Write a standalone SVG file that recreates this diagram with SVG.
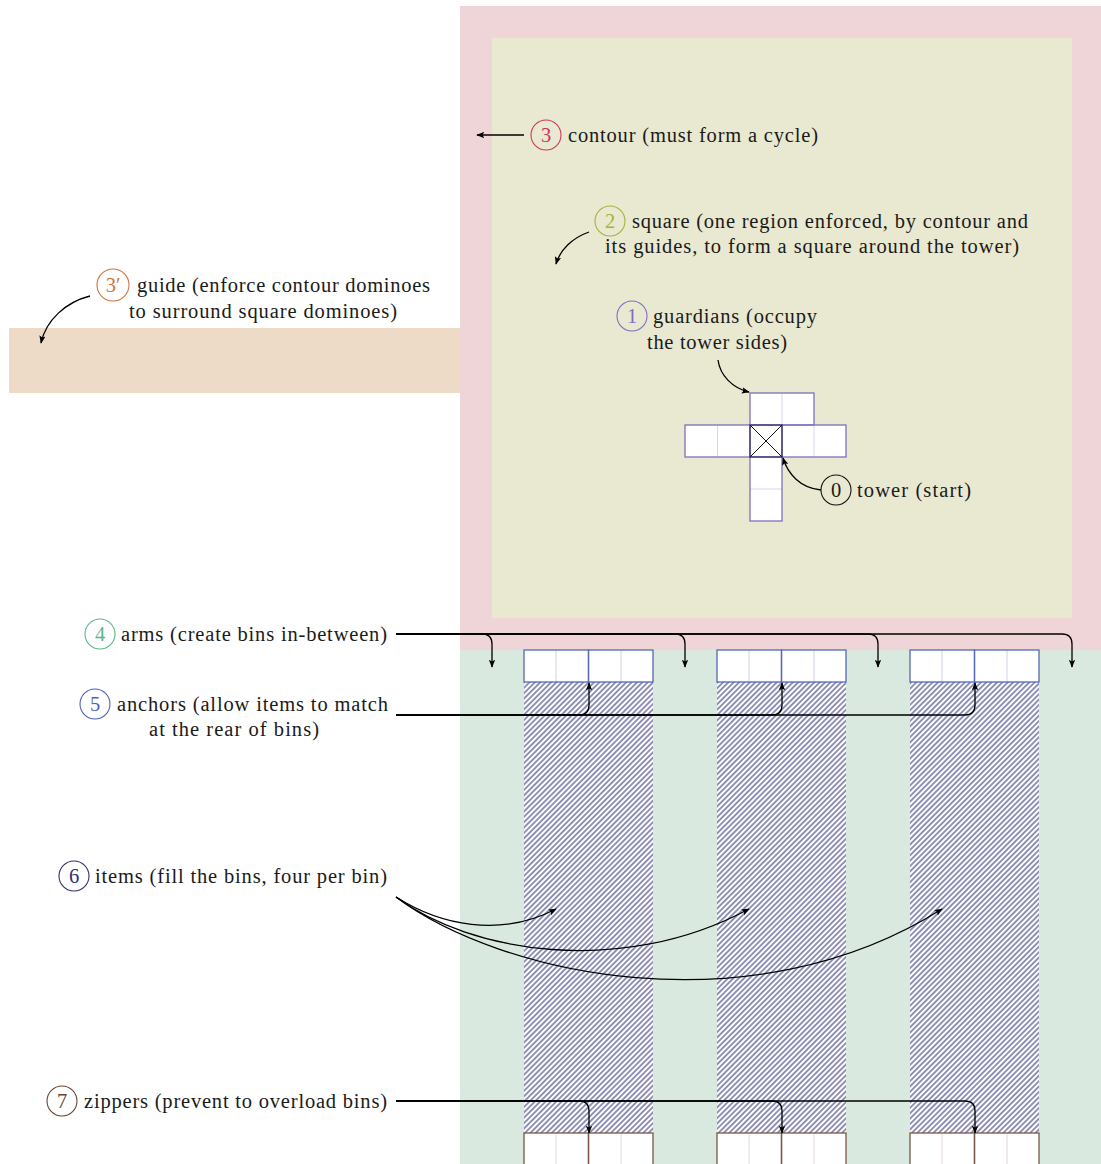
<svg xmlns="http://www.w3.org/2000/svg" width="1101" height="1164" viewBox="0 0 1101 1164">
<style>
text{font-family:"Liberation Serif","DejaVu Serif",serif;font-size:20.5px;fill:#1a1a1a}
.num{text-anchor:middle}
.c{fill:none;stroke-width:1.1}
.con{fill:none;stroke:#000;stroke-width:1.3}
.cell{fill:#fff}
.bin{fill:none;stroke:#5468b8;stroke-width:1.3}
.binl{stroke:#c9d1ef;stroke-width:1}
.zip{fill:none;stroke:#7a5646;stroke-width:1.3}
.zipl{stroke:#e3d8d0;stroke-width:1}
.cr{fill:none;stroke:#7d6fbf;stroke-width:1.3}
.crl{stroke:#d9d2f0;stroke-width:1}
</style>
<defs>
<marker id="ah" viewBox="0 0 10 8" refX="9" refY="4" markerWidth="8" markerHeight="6.4" markerUnits="userSpaceOnUse" orient="auto">
<path d="M0,0 L10,4 L0,8 L2,4 Z" fill="#000"/>
</marker>
<pattern id="hatch" patternUnits="userSpaceOnUse" width="3.8" height="10" patternTransform="rotate(45)">
<rect width="3.8" height="10" fill="#fff"/>
<line x1="1.9" y1="0" x2="1.9" y2="10" stroke="#3a3d7e" stroke-width="1.1"/>
</pattern>
</defs>

<g id="regions">
<rect x="460" y="6" width="641" height="644" fill="#f0d5d8"/>
<rect x="492" y="38" width="580" height="580" fill="#e9e8d1"/>
<rect x="9" y="328" width="451" height="65" fill="#eedbc7"/>
<rect x="460" y="650" width="641" height="514" fill="#dae9df"/>
</g>

<g id="bins">
<g id="bin1">
<rect x="524" y="682" width="129" height="451" fill="url(#hatch)"/>
<rect x="524" y="650" width="129" height="32" class="cell"/>
<line x1="556" y1="650" x2="556" y2="682" class="binl"/><line x1="621" y1="650" x2="621" y2="682" class="binl"/>
<rect x="524" y="650" width="64.5" height="32" class="bin"/><rect x="588.5" y="650" width="64.5" height="32" class="bin"/>
<rect x="524" y="1133" width="129" height="32" class="cell"/>
<line x1="556" y1="1133" x2="556" y2="1165" class="zipl"/><line x1="621" y1="1133" x2="621" y2="1165" class="zipl"/>
<rect x="524" y="1133" width="64.5" height="32" class="zip"/><rect x="588.5" y="1133" width="64.5" height="32" class="zip"/>
</g>
<g id="bin2">
<rect x="717" y="682" width="129" height="451" fill="url(#hatch)"/>
<rect x="717" y="650" width="129" height="32" class="cell"/>
<line x1="749" y1="650" x2="749" y2="682" class="binl"/><line x1="814" y1="650" x2="814" y2="682" class="binl"/>
<rect x="717" y="650" width="64.5" height="32" class="bin"/><rect x="781.5" y="650" width="64.5" height="32" class="bin"/>
<rect x="717" y="1133" width="129" height="32" class="cell"/>
<line x1="749" y1="1133" x2="749" y2="1165" class="zipl"/><line x1="814" y1="1133" x2="814" y2="1165" class="zipl"/>
<rect x="717" y="1133" width="64.5" height="32" class="zip"/><rect x="781.5" y="1133" width="64.5" height="32" class="zip"/>
</g>
<g id="bin3">
<rect x="910" y="682" width="129" height="451" fill="url(#hatch)"/>
<rect x="910" y="650" width="129" height="32" class="cell"/>
<line x1="942" y1="650" x2="942" y2="682" class="binl"/><line x1="1007" y1="650" x2="1007" y2="682" class="binl"/>
<rect x="910" y="650" width="64.5" height="32" class="bin"/><rect x="974.5" y="650" width="64.5" height="32" class="bin"/>
<rect x="910" y="1133" width="129" height="32" class="cell"/>
<line x1="942" y1="1133" x2="942" y2="1165" class="zipl"/><line x1="1007" y1="1133" x2="1007" y2="1165" class="zipl"/>
<rect x="910" y="1133" width="64.5" height="32" class="zip"/><rect x="974.5" y="1133" width="64.5" height="32" class="zip"/>
</g>
</g>

<g id="cross">
<rect x="750" y="393" width="64" height="32" class="cell"/>
<rect x="685" y="425" width="161" height="32" class="cell"/>
<rect x="750" y="457" width="32" height="64" class="cell"/>
<line x1="782" y1="393" x2="782" y2="425" class="crl"/>
<line x1="717.5" y1="425" x2="717.5" y2="457" class="crl"/>
<line x1="814" y1="425" x2="814" y2="457" class="crl"/>
<line x1="750" y1="489" x2="782" y2="489" class="crl"/>
<rect x="750" y="393" width="64" height="32" class="cr"/>
<rect x="685" y="425" width="65" height="32" class="cr"/>
<rect x="782" y="425" width="64" height="32" class="cr"/>
<rect x="750" y="457" width="32" height="64" class="cr"/>
<g id="tower">
<rect x="750" y="425" width="32" height="32" fill="none" stroke="#4a3f72" stroke-width="1.5"/>
<line x1="750" y1="425" x2="782" y2="457" stroke="#111" stroke-width="1"/>
<line x1="782" y1="425" x2="750" y2="457" stroke="#111" stroke-width="1"/>
</g>
</g>

<g id="connectors">
<line x1="524" y1="135" x2="477" y2="135" class="con" marker-end="url(#ah)"/>
<path d="M589,232 C572,238 560,250 556,264" class="con" marker-end="url(#ah)"/>
<path d="M90,296 C66,302 46,320 41,343" class="con" marker-end="url(#ah)"/>
<path d="M718,360 C720,375 732,388 749,392" class="con" marker-end="url(#ah)"/>
<path d="M821,490 C800,488 788,474 783,458" class="con" marker-end="url(#ah)"/>
<path d="M396,634 H482 Q492,634 492,644 V667" class="con" marker-end="url(#ah)"/>
<path d="M396,634 H675 Q685,634 685,644 V667" class="con" marker-end="url(#ah)"/>
<path d="M396,634 H868 Q878,634 878,644 V667" class="con" marker-end="url(#ah)"/>
<path d="M396,634 H1062 Q1072,634 1072,644 V667" class="con" marker-end="url(#ah)"/>
<path d="M396,715 H579 Q589,715 589,705 V683" class="con" marker-end="url(#ah)"/>
<path d="M396,715 H772 Q782,715 782,705 V683" class="con" marker-end="url(#ah)"/>
<path d="M396,715 H965 Q975,715 975,705 V683" class="con" marker-end="url(#ah)"/>
<path d="M396,897 C440,925 500,938 556,909" class="con" marker-end="url(#ah)"/>
<path d="M396,897 C470,952 620,978 749,909" class="con" marker-end="url(#ah)"/>
<path d="M396,897 C500,975 750,1030 942,909" class="con" marker-end="url(#ah)"/>
<path d="M396,1101 H579 Q589,1101 589,1111 V1133" class="con" marker-end="url(#ah)"/>
<path d="M396,1101 H772 Q782,1101 782,1111 V1133" class="con" marker-end="url(#ah)"/>
<path d="M396,1101 H965 Q975,1101 975,1111 V1133" class="con" marker-end="url(#ah)"/>
</g>

<g id="label-3">
<circle cx="546" cy="135" r="15" class="c" stroke="#d0365f"/>
<text x="546" y="142" class="num" style="fill:#d0365f">3</text>
<text x="568" y="142" textLength="250">contour (must form a cycle)</text>
</g>
<g id="label-2">
<circle cx="610" cy="221" r="15" class="c" stroke="#a9b03f"/>
<text x="610" y="228" class="num" style="fill:#a9b03f">2</text>
<text x="632" y="228" textLength="396">square (one region enforced, by contour and</text>
<text x="605" y="253" textLength="414">its guides, to form a square around the tower)</text>
</g>
<g id="label-3p">
<circle cx="113" cy="285" r="16" class="c" stroke="#d4703f"/>
<text x="113" y="292" class="num" style="fill:#d4703f">3′</text>
<text x="137" y="292" textLength="293">guide (enforce contour dominoes</text>
<text x="129" y="318" textLength="268">to surround square dominoes)</text>
</g>
<g id="label-1">
<circle cx="632" cy="316" r="15" class="c" stroke="#7b6fc0"/>
<text x="632" y="323" class="num" style="fill:#7b6fc0">1</text>
<text x="653" y="323" textLength="164">guardians (occupy</text>
<text x="647" y="349" textLength="140">the tower sides)</text>
</g>
<g id="label-0">
<circle cx="836" cy="490" r="15" class="c" stroke="#111"/>
<text x="836" y="497" class="num">0</text>
<text x="857" y="497" textLength="114">tower (start)</text>
</g>
<g id="label-4">
<circle cx="100" cy="634" r="15" class="c" stroke="#5db58a"/>
<text x="100" y="641" class="num" style="fill:#5db58a">4</text>
<text x="121" y="641" textLength="266">arms (create bins in-between)</text>
</g>
<g id="label-5">
<circle cx="95" cy="704" r="15" class="c" stroke="#4d62b8"/>
<text x="95" y="711" class="num" style="fill:#4d62b8">5</text>
<text x="117" y="711" textLength="271">anchors (allow items to match</text>
<text x="149" y="736" textLength="170">at the rear of bins)</text>
</g>
<g id="label-6">
<circle cx="74" cy="876" r="15" class="c" stroke="#2d3170"/>
<text x="74" y="883" class="num" style="fill:#2d3170">6</text>
<text x="95" y="883" textLength="292">items (fill the bins, four per bin)</text>
</g>
<g id="label-7">
<circle cx="62" cy="1101" r="15" class="c" stroke="#6b4330"/>
<text x="62" y="1108" class="num" style="fill:#6b4330">7</text>
<text x="84" y="1108" textLength="303">zippers (prevent to overload bins)</text>
</g>
</svg>
